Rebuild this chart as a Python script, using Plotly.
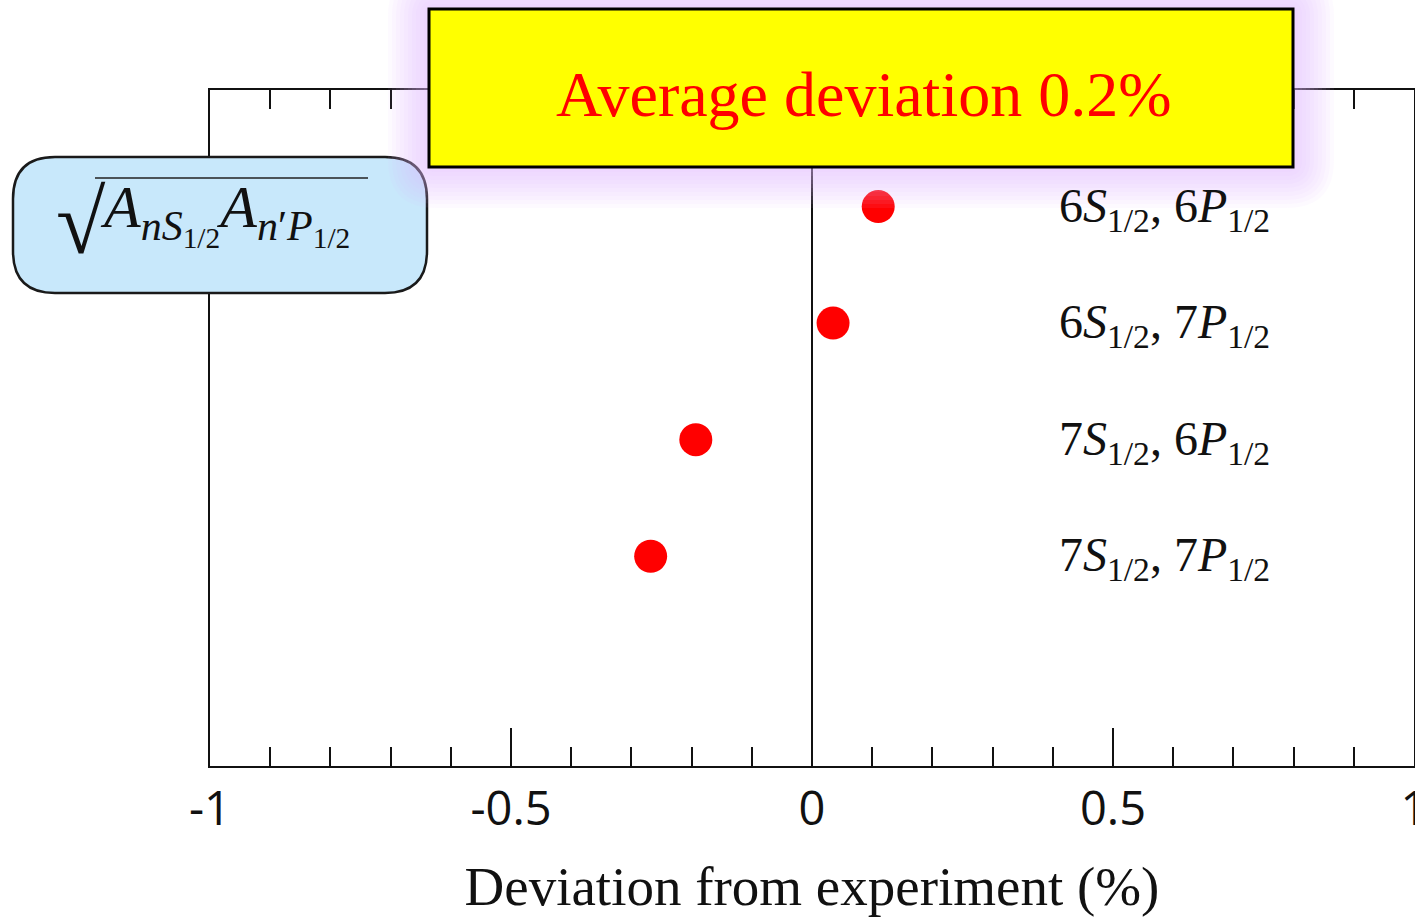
import plotly.graph_objects as go

# ---- data ----
pairs = ["6S6P", "6S7P", "7S6P", "7S7P"]
pair_labels = [
    "6<i>S</i><sub>1/2</sub>, 6<i>P</i><sub>1/2</sub>",
    "6<i>S</i><sub>1/2</sub>, 7<i>P</i><sub>1/2</sub>",
    "7<i>S</i><sub>1/2</sub>, 6<i>P</i><sub>1/2</sub>",
    "7<i>S</i><sub>1/2</sub>, 7<i>P</i><sub>1/2</sub>",
]
row_pos = [4, 3, 2, 1]
deviation = [0.11, 0.035, -0.193, -0.268]
tick_vals = [-1, -0.5, 0, 0.5, 1]
tick_text = ["-1", "-0.5", "0", "0.5", "1"]

W, H = 1415, 917
L, R, T, B = 210, 1, 90, 151
PW, PH = W - L - R, H - T - B


def px(x):
    return (x - L) / PW


def py(y):
    return (H - B - y) / PH


def rrect(x0, y0, x1, y1, r):
    rx, ry = r / PW, r / PH
    X0, X1 = px(x0), px(x1)
    Y0, Y1 = py(y0), py(y1)  # Y0 top (larger), Y1 bottom
    return (f"M {X0+rx},{Y0} L {X1-rx},{Y0} Q {X1},{Y0} {X1},{Y0-ry} "
            f"L {X1},{Y1+ry} Q {X1},{Y1} {X1-rx},{Y1} L {X0+rx},{Y1} "
            f"Q {X0},{Y1} {X0},{Y1+ry} L {X0},{Y0-ry} Q {X0},{Y0} {X0+rx},{Y0} Z")


SERIF = "Liberation Serif, Times New Roman, serif"

fig = go.Figure()
fig.add_trace(go.Scatter(
    x=deviation, y=row_pos, mode="markers",
    marker=dict(color="#ff0000", size=33, line=dict(width=0)),
    showlegend=False, hoverinfo="x",
))

shapes = []
# blue formula box
shapes.append(dict(type="path", xref="paper", yref="paper",
                   path=rrect(13, 157, 427, 293, 42),
                   fillcolor="#c8e8fb", line=dict(color="#1a1a1a", width=2.5),
                   layer="above"))
# overline of square root
shapes.append(dict(type="line", xref="paper", yref="paper",
                   x0=px(95), x1=px(368), y0=py(178), y1=py(178),
                   line=dict(color="#222", width=1.5), layer="above"))
# glow around yellow box
for g in [40, 36, 32, 28, 24, 20, 16, 12, 8, 4]:
    shapes.append(dict(type="path", xref="paper", yref="paper",
                       path=rrect(428 - g, 8 - g, 1294 + g, 168 + g, g + 8),
                       fillcolor="rgba(222,188,252,0.07)", line=dict(width=0),
                       layer="above"))
# yellow box
shapes.append(dict(type="rect", xref="paper", yref="paper",
                   x0=px(429), x1=px(1293), y0=py(167), y1=py(9),
                   fillcolor="#ffff00", line=dict(color="black", width=3),
                   layer="above"))

annotations = []
for lab, yv in zip(pair_labels, row_pos):
    annotations.append(dict(x=0.585, y=yv, xref="x", yref="y", text=lab,
                            showarrow=False, xanchor="center", yanchor="middle",
                            yshift=-2,
                            font=dict(family=SERIF, size=48, color="#111")))
annotations.append(dict(x=px(864), y=py(94), xref="paper", yref="paper",
                        text="Average deviation 0.2%", showarrow=False,
                        xanchor="center", yanchor="middle",
                        font=dict(family=SERIF, size=64, color="#ff0000")))
annotations.append(dict(x=px(81), y=py(222), xref="paper", yref="paper",
                        text="√", showarrow=False, xanchor="center", yanchor="middle",
                        font=dict(family=SERIF, size=90, color="#111")))
annotations.append(dict(x=px(98), y=py(214), xref="paper", yref="paper",
                        text="<i>A</i><sub><i>nS</i><sub>1/2</sub></sub>"
                             "<i>A</i><sub><i>n</i>′<i>P</i><sub>1/2</sub></sub>",
                        showarrow=False, xanchor="left", yanchor="middle",
                        font=dict(family=SERIF, size=60, color="#111")))

fig.update_layout(
    width=W, height=H,
    margin=dict(l=L, r=R, t=T, b=B, autoexpand=False),
    paper_bgcolor="white", plot_bgcolor="white",
    shapes=shapes, annotations=annotations,
    xaxis=dict(
        range=[-1, 1], tickvals=tick_vals, ticktext=tick_text,
        ticks="inside", ticklen=38, tickwidth=2, tickcolor="#111",
        minor=dict(dtick=0.1, ticks="inside", ticklen=19, tickwidth=2, tickcolor="#111"),
        showline=True, linecolor="#111", linewidth=2, mirror="ticks",
        showgrid=False, zeroline=True, zerolinecolor="#111", zerolinewidth=2,
        tickfont=dict(family="Open Sans, Noto Sans, sans-serif", size=47, color="#111"),
        ticklabelstandoff=1, ticklabeloverflow="allow", automargin=False,
        title=dict(text="Deviation from experiment (%)", standoff=30,
                   font=dict(family=SERIF, size=55, color="#111")),
    ),
    yaxis=dict(
        range=[-0.8, 5.0], showticklabels=False, ticks="",
        showline=True, linecolor="#111", linewidth=2, mirror=True,
        showgrid=False, zeroline=False,
    ),
)

fig.write_html(
    "out.html",
    config={"displayModeBar": False},
    post_script="document.body.style.margin='0';document.body.style.overflow='hidden';",
)
